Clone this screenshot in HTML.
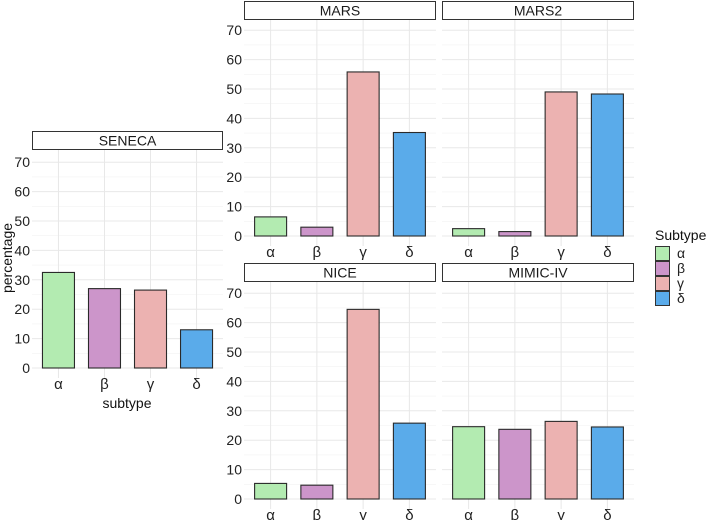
<!DOCTYPE html>
<html><head><meta charset="utf-8"><style>
body{margin:0;background:#fff;}
svg{display:block;font-family:"Liberation Sans",sans-serif;}
</style></head><body>
<svg id="chart" width="706" height="520"></svg>
<script>
const categories = ["α","β","γ","δ"];
const colors = ["#b3ebb1","#cc95ca","#ecb2b1","#5aabea"];
const panelNames = ["SENECA","MARS","MARS2","NICE","MIMIC-IV"];
const senecaValues = [32.5, 27, 26.5, 13];
const marsValues = [6.5, 3, 55.8, 35.2];
const mars2Values = [2.5, 1.5, 49, 48.3];
const niceValues = [5.3, 4.7, 64.5, 25.8];
const mimicValues = [24.6, 23.7, 26.4, 24.5];
const yTicks = [0,10,20,30,40,50,60,70];

const NS = "http://www.w3.org/2000/svg";
const svg = document.getElementById("chart");
function mk(tag, attrs, parent){const e=document.createElementNS(NS,tag);for(const k in attrs)e.setAttribute(k,attrs[k]);(parent||svg).appendChild(e);return e;}

const layouts = [
  {x0:32,x1:223,zero:368,stripTop:131,vals:senecaValues,ticks:true},
  {x0:244,x1:436,zero:236,stripTop:1,vals:marsValues,ticks:true},
  {x0:442,x1:634,zero:236,stripTop:1,vals:mars2Values,ticks:false},
  {x0:244,x1:436,zero:499,stripTop:263,vals:niceValues,ticks:true},
  {x0:442,x1:634,zero:499,stripTop:263,vals:mimicValues,ticks:false}
];
const pxPerUnit = 2.94;

layouts.forEach((L,pi)=>{
  const g = mk("g",{});
  
  
  const y = v => L.zero - v*pxPerUnit;
  const top = L.stripTop+19, bottom = L.zero+10;
  const step = (L.x1-L.x0)/4.15;
  const xc = i => L.x0 + step*(i+0.575);
  for(let v=5; v<75; v+=10){ mk("line",{x1:L.x0,x2:L.x1,y1:y(v),y2:y(v),stroke:"#f2f2f2","stroke-width":0.6},g); }
  yTicks.forEach(v=>{ mk("line",{x1:L.x0,x2:L.x1,y1:y(v),y2:y(v),stroke:"#e8e8e8","stroke-width":1},g); });
  categories.forEach((c,i)=>{ mk("line",{x1:xc(i),x2:xc(i),y1:top,y2:bottom,stroke:"#e8e8e8","stroke-width":1},g); });
  const s = mk("rect",{x:L.x0+0.5,y:L.stripTop+0.5,width:L.x1-L.x0-1,height:18,fill:"#fff",stroke:"#333","stroke-width":1},g);
  
  
  const st = mk("text",{x:(L.x0+L.x1)/2,y:L.stripTop+14.5,"text-anchor":"middle","font-size":14,fill:"#1a1a1a"},g);
  st.textContent = panelNames[pi];
  
  
  const bw = 32;
  L.vals.forEach((v,i)=>{
    const b = mk("rect",{x:xc(i)-bw/2,y:y(v),width:bw,height:v*pxPerUnit,fill:colors[i],stroke:"#2a2a2a","stroke-width":1.1},g);
    
    
    const t = mk("text",{x:xc(i),y:L.zero+21,"text-anchor":"middle","font-size":15,fill:"#222"},g);
    t.textContent = categories[i];
    
    
  });
  if(L.ticks){
    yTicks.forEach(v=>{
      const t = mk("text",{x:L.x0-2,y:y(v)+5,"text-anchor":"end","font-size":14,fill:"#222"},g);
      t.textContent = v;
      
      
    });
  }
});

const yt = mk("text",{x:12,y:258,"text-anchor":"middle","font-size":14,fill:"#111",transform:"rotate(-90 12 258)"});
yt.textContent="percentage";


const xt = mk("text",{x:127,y:408,"text-anchor":"middle","font-size":14,fill:"#111"});
xt.textContent="subtype";



const lg = mk("g",{});


const lt = mk("text",{x:655,y:240,"font-size":14,fill:"#111"},lg);
lt.textContent="Subtype";


categories.forEach((c,i)=>{
  const r = mk("rect",{x:655.5,y:246.5+i*15,width:14,height:14,fill:colors[i],stroke:"#333","stroke-width":1},lg);
  
  
  const t = mk("text",{x:677,y:258+i*15,"font-size":14,fill:"#222"},lg);
  t.textContent=c;
  
  
});
</script>
</body></html>
